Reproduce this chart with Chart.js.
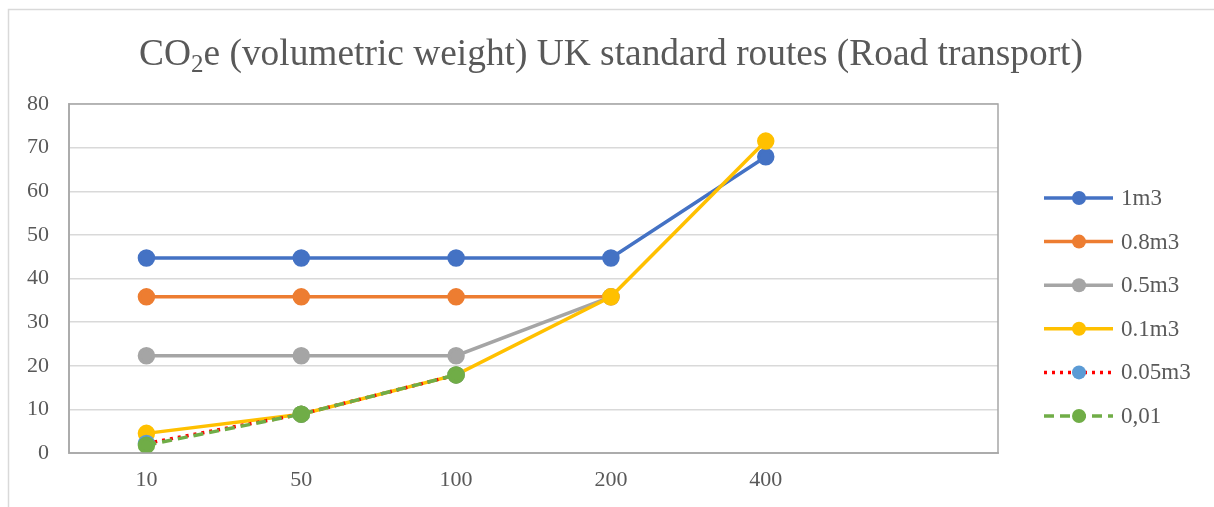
<!DOCTYPE html>
<html>
<head>
<meta charset="utf-8">
<script src="https://cdn.jsdelivr.net/npm/chart.js@4/dist/chart.umd.min.js"></script>
<style>
  html, body { margin: 0; padding: 0; background: #fff; }
  #wrap { width: 1214px; height: 507px; }
</style>
</head>
<body>
<div id="wrap"><canvas id="co2Chart" width="1214" height="507"></canvas></div>
<script>
// Route distances (last slot is an empty category, as in the source sheet)
const routes = ['10', '50', '100', '200', '400', ''];

const series1m3 = [44.7, 44.7, 44.7, 44.7, 67.9, null];
const series08m3 = [35.8, 35.8, 35.8, 35.8, null, null];
const series05m3 = [22.3, 22.3, 22.3, 35.8, null, null];
const series01m3 = [4.5, 8.9, 17.9, 35.8, 71.5, null];
const series005m3 = [2.2, 8.9, 17.9, null, null, null];
const series001 = [1.8, 8.9, 17.9, null, null, null];

const yTicks = [0, 10, 20, 30, 40, 50, 60, 70, 80];

const FONT = "'Liberation Serif', 'Times New Roman', serif";
const TEXT = '#595959';

function lineSet(label, data, line, point, dash, idx) {
    return {
        label: label,
        data: data,
        borderColor: line,
        backgroundColor: point,
        pointBackgroundColor: point,
        pointBorderColor: point,
        pointRadius: 7,
        pointHoverRadius: 7,
        borderWidth: 3.5,
        borderDash: dash,
        tension: 0,
        spanGaps: false,
        order: 10 - idx   // later series painted on top
    };
}

const datasets = [
    lineSet('1m3', series1m3, '#4472C4', '#4472C4', [], 0),
    lineSet('0.8m3', series08m3, '#ED7D31', '#ED7D31', [], 1),
    lineSet('0.5m3', series05m3, '#A5A5A5', '#A5A5A5', [], 2),
    lineSet('0.1m3', series01m3, '#FFC000', '#FFC000', [], 3),
    lineSet('0.05m3', series005m3, '#FF0000', '#5B9BD5', [3, 5], 4),
    lineSet('0,01', series001, '#70AD47', '#70AD47', [10, 6], 5)
];

// Frame, title with subscript, plot border and side legend
const decorations = {
    id: 'decorations',
    beforeDraw(chart) {
        const ctx = chart.ctx;
        ctx.save();
        ctx.strokeStyle = '#d9d9d9';
        ctx.lineWidth = 1.5;
        ctx.beginPath();
        ctx.moveTo(8.5, 520);
        ctx.lineTo(8.5, 9.5);
        ctx.lineTo(1220, 9.5);
        ctx.stroke();

        // title: CO2e with subscript 2
        const big = '37.4px ' + FONT, small = '25px ' + FONT;
        const a = 'CO', b = '2', c = 'e (volumetric weight) UK standard routes (Road transport)';
        ctx.font = big;
        const wa = ctx.measureText(a).width, wc = ctx.measureText(c).width;
        ctx.font = small;
        const wb = ctx.measureText(b).width;
        let x = 611 - (wa + wb + wc) / 2;
        const base = 65;
        ctx.fillStyle = TEXT;
        ctx.textBaseline = 'alphabetic';
        ctx.textAlign = 'left';
        ctx.font = big;
        ctx.fillText(a, x, base);
        x += wa;
        ctx.font = small;
        ctx.fillText(b, x, base + 7);
        x += wb;
        ctx.font = big;
        ctx.fillText(c, x, base);
        ctx.restore();
    },
    afterDatasetsDraw(chart) {
        const ctx = chart.ctx;
        const area = chart.chartArea;
        ctx.save();
        ctx.strokeStyle = '#a6a6a6';
        ctx.lineWidth = 1.5;
        ctx.strokeRect(area.left, area.top, area.right - area.left, area.bottom - area.top);

        ctx.font = '23px ' + FONT;
        ctx.textBaseline = 'middle';
        ctx.textAlign = 'left';
        chart.data.datasets.forEach(function(ds, i) {
            const y = 198 + i * 43.6;
            ctx.strokeStyle = ds.borderColor;
            ctx.lineWidth = ds.borderWidth;
            ctx.setLineDash(ds.borderDash);
            ctx.beginPath();
            ctx.moveTo(1044, y);
            ctx.lineTo(1113, y);
            ctx.stroke();
            ctx.setLineDash([]);
            ctx.fillStyle = ds.pointBackgroundColor;
            ctx.beginPath();
            ctx.arc(1079, y, 7, 0, Math.PI * 2);
            ctx.fill();
            ctx.fillStyle = TEXT;
            ctx.fillText(ds.label, 1121, y + 1);
        });
        ctx.restore();
    }
};

new Chart(document.getElementById('co2Chart'), {
    type: 'line',
    data: { labels: routes, datasets: datasets },
    options: {
        responsive: false,
        animation: false,
        layout: { padding: { left: 0, top: 104, right: 216, bottom: 0 } },
        plugins: {
            legend: { display: false },
            title: { display: false },
            tooltip: { enabled: false }
        },
        scales: {
            x: {
                type: 'category',
                offset: true,
                grid: { display: false, drawTicks: false },
                border: { color: '#bfbfbf', width: 2 },
                ticks: {
                    color: TEXT,
                    font: { family: FONT, size: 22 },
                    padding: 14,
                    maxRotation: 0,
                    autoSkip: false
                },
                afterFit(scale) { scale.height = 54; }
            },
            y: {
                min: 0,
                max: 80,
                afterBuildTicks(scale) {
                    scale.ticks = yTicks.map(function(v) { return { value: v }; });
                },
                grid: { color: '#d9d9d9', lineWidth: 1.5, drawTicks: false },
                border: { color: '#bfbfbf', width: 2 },
                ticks: {
                    color: TEXT,
                    font: { family: FONT, size: 22 },
                    padding: 20
                },
                afterFit(scale) { scale.width = 69; }
            }
        }
    },
    plugins: [decorations]
});
</script>
</body>
</html>
